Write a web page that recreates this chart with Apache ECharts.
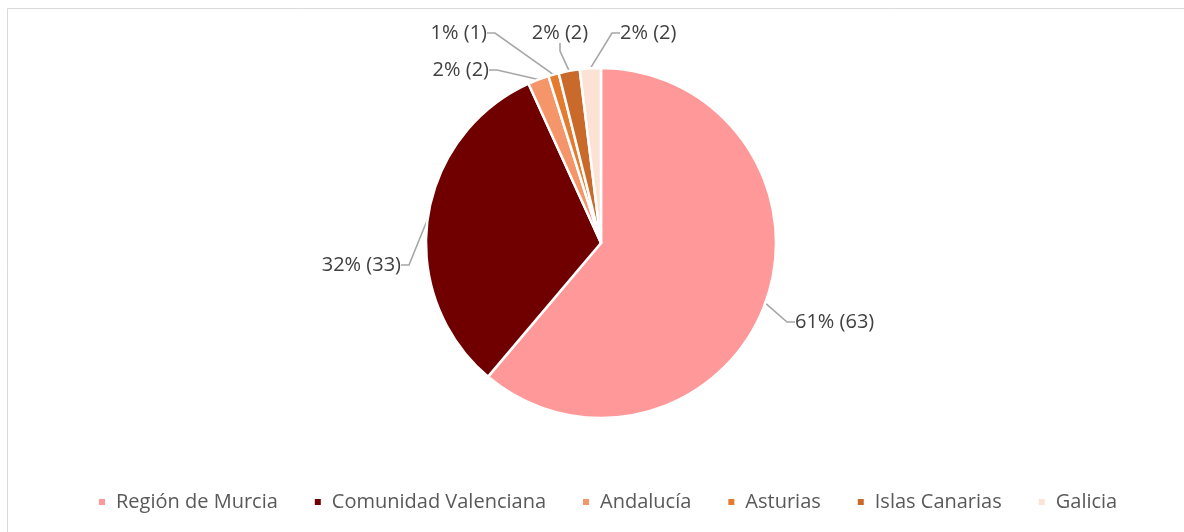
<!DOCTYPE html>
<html>
<head>
<meta charset="utf-8">
<script src="https://cdn.jsdelivr.net/npm/echarts@6/dist/echarts.min.js"></script>
<style>
  html, body { margin: 0; padding: 0; background: #fff; }
  #chart { width: 1184px; height: 532px; }
</style>
</head>
<body>
<div id="chart"></div>
<script>
var regions = ["Región de Murcia", "Comunidad Valenciana", "Andalucía", "Asturias", "Islas Canarias", "Galicia"];
var counts = [63, 33, 2, 1, 2, 2];
var colors = ["#FF9999", "#700000", "#F4956A", "#E57B2F", "#C96A2A", "#FBE2D5"];

// where each label sits (text anchor x, y, align)
var labelSpots = [
  [795, 322, "left"],
  [401, 265, "right"],
  [489, 70, "right"],
  [487, 33, "right"],
  [560, 33, "center"],
  [620, 33, "left"]
];

var myChart = echarts.init(document.getElementById("chart"));

var pieData = [];
for (let i = 0; i < regions.length; i++) {
  pieData.push({ name: regions[i], value: counts[i], itemStyle: { color: colors[i] } });
}

var option = {
  animation: false,
  graphic: [
    {
      type: "rect",
      shape: { x: 7.5, y: 8.5, width: 1200, height: 560 },
      style: { fill: "none", stroke: "#D9D9D9", lineWidth: 1 },
      silent: true
    }
  ],
  legend: {
    bottom: 15,
    left: 92,
    icon: "rect",
    itemWidth: 8,
    itemHeight: 8,
    itemGap: 35,
    textStyle: {
      fontFamily: "Open Sans",
      fontSize: 20,
      color: "#595959",
      padding: [0, 0, 0, 5]
    },
    data: regions
  },
  series: [
    {
      type: "pie",
      center: [601, 243],
      radius: 175,
      startAngle: 90,
      clockwise: true,
      percentPrecision: 0,
      data: pieData,
      itemStyle: {
        borderColor: "#fff",
        borderWidth: 2.5
      },
      label: {
        show: true,
        formatter: "{d}% ({c})",
        fontFamily: "Open Sans",
        fontSize: 20,
        color: "#404040"
      },
      labelLine: {
        show: true,
        length: 15,
        length2: 8,
        lineStyle: { color: "#A6A6A6", width: 1.6 }
      },
      labelLayout: function (params) {
        var s = labelSpots[params.dataIndex];
        return { x: s[0], y: s[1], align: s[2], verticalAlign: "middle" };
      }
    }
  ]
};

myChart.setOption(option);
</script>
</body>
</html>
